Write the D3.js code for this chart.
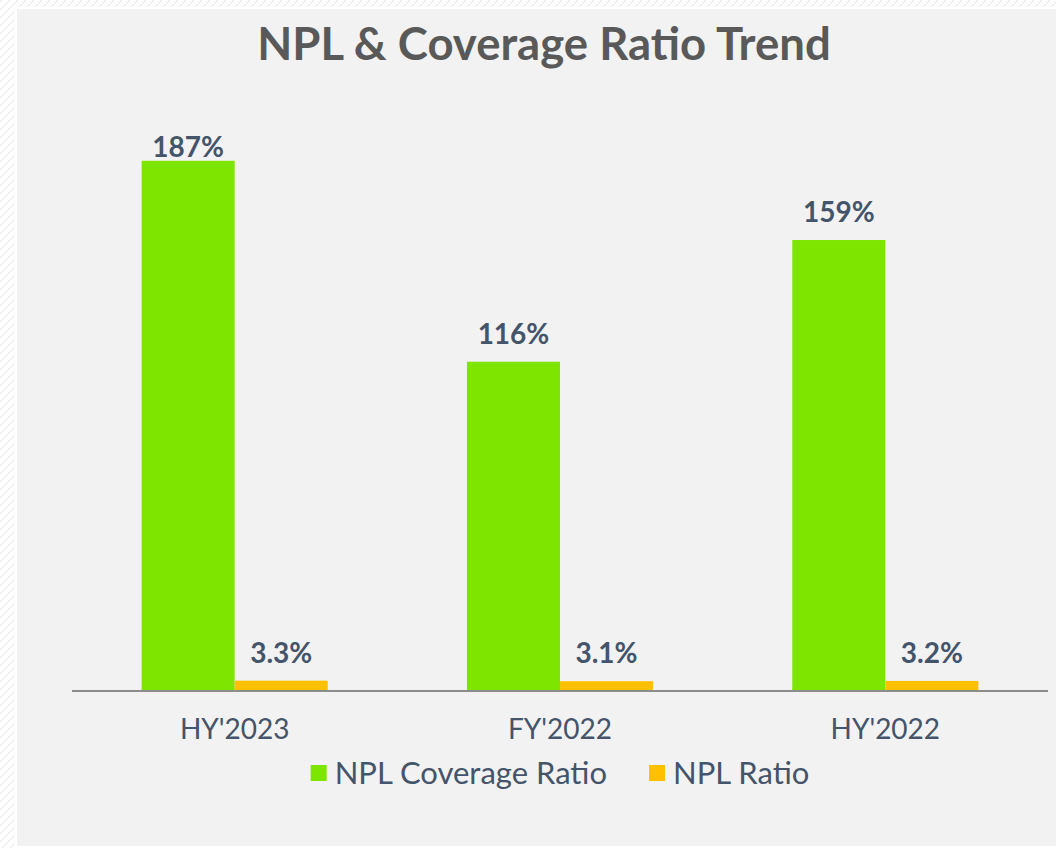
<!DOCTYPE html>
<html>
<head>
<meta charset="utf-8">
<script src="https://cdn.jsdelivr.net/npm/d3@7"></script>
<style>
  html, body { margin: 0; padding: 0; background: #ffffff; }
  svg { display: block; }
</style>
</head>
<body>
<svg id="chart" width="1056" height="848"></svg>
<script>
// Reporting periods and the two ratios (in %)
const periods = ["HY'2023", "FY'2022", "HY'2022"];
const coverageRatio = [187, 116, 159];
const nplRatio = [3.3, 3.1, 3.2];
const seriesNames = ["NPL Coverage Ratio", "NPL Ratio"];
const seriesColors = ["#7ee500", "#ffc000"];
const labelFormats = [v => v + "%", v => v.toFixed(1) + "%"];

const W = 1056, H = 848;
const svg = d3.select("#chart");

// Checkered backdrop behind the chart panel
const defs = svg.append("defs");
const pat = defs.append("pattern")
  .attr("id", "checker").attr("width", 8).attr("height", 8)
  .attr("patternUnits", "userSpaceOnUse");
pat.append("rect").attr("width", 8).attr("height", 8).attr("fill", "#ffffff");
[[0, 0], [4, 4], [2, 6], [6, 2]].forEach(([x, y]) =>
  pat.append("rect").attr("x", x).attr("y", y).attr("width", 2).attr("height", 2).attr("fill", "#efefef"));
svg.append("rect").attr("width", W).attr("height", H).attr("fill", "url(#checker)");
svg.append("rect").attr("x", 15).attr("y", 7).attr("width", W - 15).attr("height", 841).attr("fill", "#ffffff");
svg.append("rect").attr("x", 17).attr("y", 9).attr("width", W - 17).attr("height", 837).attr("fill", "#f2f2f2");

const font = "Lato, 'Open Sans', sans-serif";
const textColor = "#44546a";

// Title
svg.append("text")
  .attr("x", 544).attr("y", 60)
  .attr("text-anchor", "middle")
  .attr("font-family", font).attr("font-weight", 700).attr("font-size", 45.5)
  .attr("fill", "#595959")
  .text("NPL & Coverage Ratio Trend");

// Scales
const plot = { left: 72, right: 1048, top: 124, bottom: 690 };
const x = d3.scaleBand().domain(periods).range([plot.left, plot.right])
  .paddingInner(0.428).paddingOuter(0.214);
const xs = d3.scaleBand().domain([0, 1]).range([0, x.bandwidth()]);
const y = d3.scaleLinear().domain([0, 200]).range([plot.bottom, plot.top]);

const rows = periods.map((p, i) => ({ period: p, values: [coverageRatio[i], nplRatio[i]] }));

const groups = svg.append("g").selectAll("g").data(rows).join("g")
  .attr("transform", d => `translate(${x(d.period)},0)`);

groups.selectAll("rect").data(d => d.values).join("rect")
  .attr("x", (v, j) => xs(j))
  .attr("width", xs.bandwidth())
  .attr("y", v => y(v))
  .attr("height", v => plot.bottom - y(v))
  .attr("fill", (v, j) => seriesColors[j]);

// Value labels, kept inside the plot's upper edge
const labelLimit = 157;
groups.selectAll("text.val").data(d => d.values).join("text")
  .attr("class", "val")
  .attr("x", (v, j) => xs(j) + xs.bandwidth() / 2)
  .attr("y", v => Math.max(y(v) - 18, labelLimit))
  .attr("text-anchor", "middle")
  .attr("font-family", font).attr("font-weight", 700).attr("font-size", 28)
  .attr("fill", textColor)
  .text((v, j) => labelFormats[j](v));

// Category axis
const axis = svg.append("g")
  .attr("transform", `translate(0,${plot.bottom})`)
  .call(d3.axisBottom(x).tickSize(0).tickSizeOuter(0));
axis.select(".domain").attr("stroke", "#8c8c8c").attr("stroke-width", 2)
  .attr("d", `M${plot.left},1H${plot.right}`);
axis.selectAll(".tick text")
  .attr("y", 49).attr("dy", null)
  .attr("font-family", font).attr("font-size", 28)
  .attr("fill", textColor);

// Legend, centred under the plot
const legend = svg.append("g");
const sq = 16, gapSq = 8, gapItem = 42;
let cx = 0;
seriesNames.forEach((name, j) => {
  const g = legend.append("g").attr("transform", `translate(${cx},0)`);
  g.append("rect").attr("x", 0).attr("y", -19).attr("width", sq).attr("height", sq)
    .attr("fill", seriesColors[j]);
  const t = g.append("text").attr("x", sq + gapSq).attr("y", 0)
    .attr("font-family", font).attr("font-size", 31).attr("fill", textColor)
    .text(name);
  cx += sq + gapSq + t.node().getComputedTextLength() + gapItem;
});
const legendW = cx - gapItem;
legend.attr("transform", `translate(${(plot.left + plot.right) / 2 - legendW / 2},784)`);
</script>
</body>
</html>
